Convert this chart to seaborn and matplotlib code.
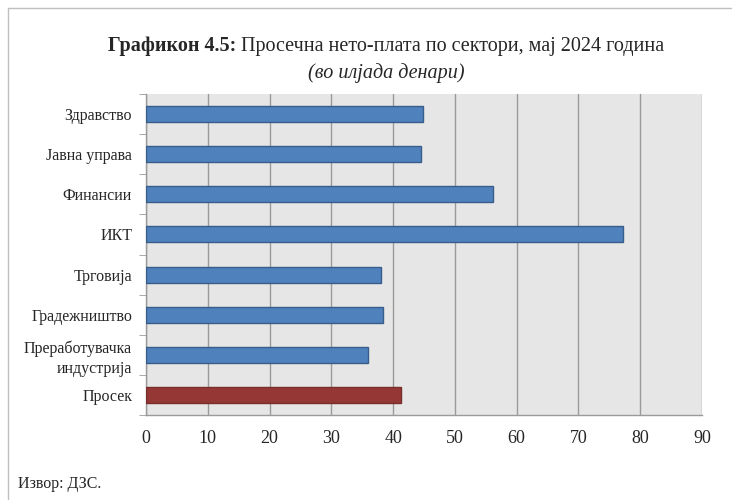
import numpy as np
import pandas as pd
import matplotlib.pyplot as plt
import seaborn as sns
from matplotlib.lines import Line2D

# data (thousand denars)
sectors = ['Здравство', 'Јавна управа', 'Финансии', 'ИКТ', 'Трговија',
           'Градежништво', 'Преработувачка\nиндустрија', 'Просек']
wages = [44.8, 44.5, 56.1, 77.2, 38.0, 38.4, 36.0, 41.3]
kind = ['sector'] * 7 + ['avg']

df = pd.DataFrame({'sector': sectors, 'wage': wages, 'kind': kind})

sns.set_style('white')
plt.rcParams['font.family'] = ['Liberation Serif', 'DejaVu Serif']

fig = plt.figure(figsize=(7.32, 5), dpi=100)
ax = fig.add_axes([146 / 732, 1 - 415 / 500, 556 / 732, 321 / 500])
ax.set_facecolor('#E6E6E6')

sns.barplot(data=df, y='sector', x='wage', hue='kind', orient='h',
            palette={'sector': '#4F81BD', 'avg': '#953735'}, saturation=1,
            width=0.4, dodge=False, legend=False, ax=ax, zorder=3)
for p, k in zip(ax.patches, kind):
    p.set_edgecolor('#385D8A' if k == 'sector' else '#7A2E2C')
    p.set_linewidth(1.0)

ax.set_xlim(0, 90)
ax.set_ylim(7.5, -0.5)
ax.set_xticks(np.arange(0, 91, 10))
ax.set_xlabel('')
ax.set_ylabel('')
ax.grid(axis='x', color='#9A9A9A', linewidth=1.0, zorder=0)
ax.grid(axis='y', visible=False)
for s in ['top', 'right']:
    ax.spines[s].set_visible(False)
for s in ['left', 'bottom']:
    ax.spines[s].set_color('#9A9A9A')
    ax.spines[s].set_linewidth(1.0)

ax.tick_params(axis='x', which='major', direction='out', length=5, color='#9A9A9A',
               labelsize=13, pad=6)
ax.tick_params(axis='y', which='major', length=0, labelsize=11.5, pad=10)
for lab in ax.get_yticklabels():
    lab.set_multialignment('right')
    lab.set_linespacing(1.35)
ax.set_yticks(np.arange(-0.5, 8, 1), minor=True)
ax.tick_params(axis='y', which='minor', direction='out', length=5, color='#9A9A9A', left=True)

# title: bold part + regular part, centered together
fig.canvas.draw()
r = fig.canvas.get_renderer()
t1 = fig.text(0, 0, 'Графикон 4.5:', fontsize=14.5, fontweight='bold')
t2 = fig.text(0, 0, ' Просечна нето-плата по сектори, мај 2024 година', fontsize=14.5)
w1 = t1.get_window_extent(r).width / 732
w2 = t2.get_window_extent(r).width / 732
x0 = 386 / 732 - (w1 + w2) / 2
ty = 1 - 51 / 500
t1.set_position((x0, ty))
t2.set_position((x0 + w1, ty))
fig.text(386 / 732, 1 - 78 / 500, '(во илјада денари)', fontsize=14.5,
         style='italic', ha='center')

fig.text(18 / 732, 1 - 488 / 500, 'Извор: ДЗС.', fontsize=11.5)

# frame lines
fig.add_artist(Line2D([8 / 732, 8 / 732], [0, 1 - 8 / 500], transform=fig.transFigure,
                      color='#BFBFBF', linewidth=1))
fig.add_artist(Line2D([8 / 732, 1], [1 - 8 / 500, 1 - 8 / 500], transform=fig.transFigure,
                      color='#BFBFBF', linewidth=1))

fig.savefig('out.png', dpi=100)
